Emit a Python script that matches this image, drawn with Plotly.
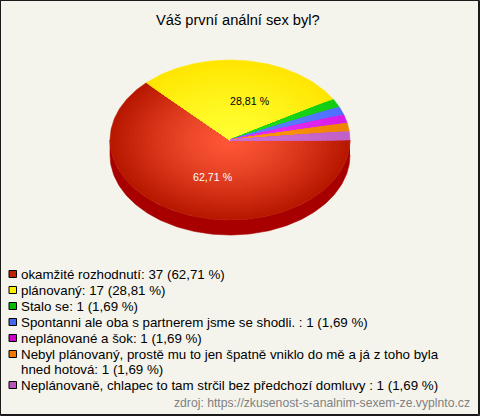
import numpy as np
import plotly.graph_objects as go

title = "Váš první anální sex byl?"
categories = [
    "okamžité rozhodnutí",
    "plánovaný",
    "Stalo se",
    "Spontanni ale oba s partnerem jsme se shodli. ",
    "neplánované a šok",
    "Nebyl plánovaný, prostě mu to jen špatně vniklo do mě a já z toho byla\nhned hotová",
    "Neplánovaně, chlapec to tam strčil bez předchozí domluvy ",
]
counts = [37, 17, 1, 1, 1, 1, 1]
percents = ["62,71", "28,81", "1,69", "1,69", "1,69", "1,69", "1,69"]
inner_colors = ["#FF5838", "#FFFF33", "#22DD22", "#5F82FF", "#E833F5", "#FF9A10", "#D070D0"]
outer_colors = ["#B81800", "#FFE600", "#11CC11", "#4F70FF", "#D81CE8", "#EE8400", "#C060C8"]
legend_colors = ["#C02000", "#FFEE00", "#00BB00", "#4466EE", "#CC00CC", "#EE7700", "#BB55BB"]
source = "zdroj: https://zkusenost-s-analnim-sexem-ze.vyplnto.cz"

W, H = 480, 416
CX, CY, RX, RY, DEPTH = 230, 140, 120, 80, 15
BG = "#F5F4EC"
FONT = "Liberation Sans, Arial, sans-serif"
LAYERS = 26


def hex_rgb(c):
    return np.array([int(c[i:i + 2], 16) for i in (1, 3, 5)], float)


def mix(a, b, t):
    v = hex_rgb(a) * (1 - t) + hex_rgb(b) * t
    return "rgb(%d,%d,%d)" % tuple(v.round())


fig = go.Figure()

# side wall of the disc
front = np.radians(np.linspace(0, 180, 181))
wx = np.r_[CX + RX * np.cos(front), CX + RX * np.cos(front[::-1])]
wy = np.r_[CY + RY * np.sin(front), CY + DEPTH + RY * np.sin(front[::-1])]
fig.add_trace(go.Scatter(x=wx, y=wy, mode="lines", fill="toself", fillcolor="#A80000",
                         line=dict(width=0.6, color="#A80000"), hoverinfo="skip", showlegend=False))

# top face: clockwise from 3 o'clock, layered for the radial shading
total = sum(counts)
edges = np.cumsum([0] + counts) / total * 2 * np.pi
for i in range(len(counts)):
    ang = np.linspace(edges[i], edges[i + 1], max(4, int((edges[i + 1] - edges[i]) * 60)))
    for k in range(LAYERS):
        s = 1 - k / LAYERS
        x = np.r_[CX, CX + s * RX * np.cos(ang), CX]
        y = np.r_[CY, CY + s * RY * np.sin(ang), CY]
        col = mix(inner_colors[i], outer_colors[i], s ** 1.3)
        fig.add_trace(go.Scatter(x=x, y=y, mode="lines", fill="toself", fillcolor=col,
                                 line=dict(width=0.5, color=col), hoverinfo="skip", showlegend=False))

ann = [dict(x=238, y=20, text=title, showarrow=False, xanchor="center", yanchor="middle",
            font=dict(size=14.67, color="#000000"))]

# slice labels on the two large slices
for i, col, sh in ((0, "#FFFFFF", 6), (1, "#000000", 12)):
    mid = (edges[i] + edges[i + 1]) / 2
    ann.append(dict(x=CX + 0.5 * RX * np.cos(mid), y=CY + 0.5 * RY * np.sin(mid),
                    xshift=sh, yshift=-1 if i == 1 else 0,
                    text=percents[i] + " %", showarrow=False, xanchor="center", yanchor="middle",
                    font=dict(size=10.67, color=col)))

# frame
shapes = [
    dict(type="rect", x0=0.5, x1=478.5, y0=0.5, y1=414.5, line=dict(color="#1A1A1A", width=1)),
    dict(type="rect", x0=0.5, x1=479.5, y0=0.5, y1=415.5, line=dict(color="#1A1A1A", width=1)),
]

# legend
ly = 274
for i, cat in enumerate(categories):
    lines = cat.split("\n")
    lines[-1] += ": %d (%s %%)" % (counts[i], percents[i])
    shapes.append(dict(type="rect", x0=9, x1=16.5, y0=ly - 3.5, y1=ly + 3.5,
                       line=dict(color="#000000", width=1), fillcolor=legend_colors[i]))
    for j, ln in enumerate(lines):
        ann.append(dict(x=18.5, y=ly, text=ln, showarrow=False, xanchor="left", yanchor="middle",
                        font=dict(size=13.33, color="#000000")))
        ly += 16 if j == len(lines) - 1 else 15

ann.append(dict(x=472, y=403, text=source, showarrow=False, xanchor="right", yanchor="middle",
                font=dict(size=12.2, color="#808080")))

fig.update_layout(
    width=W, height=H, margin=dict(l=0, r=0, t=0, b=0),
    paper_bgcolor=BG, plot_bgcolor=BG, showlegend=False,
    font=dict(family=FONT),
    xaxis=dict(range=[0, W], visible=False, fixedrange=True),
    yaxis=dict(range=[H, 0], visible=False, fixedrange=True),
    annotations=ann, shapes=shapes,
)
fig.write_html("out.html", config=dict(displayModeBar=False),
               default_width=W, default_height=H,
               post_script="document.body.style.margin='0';")
